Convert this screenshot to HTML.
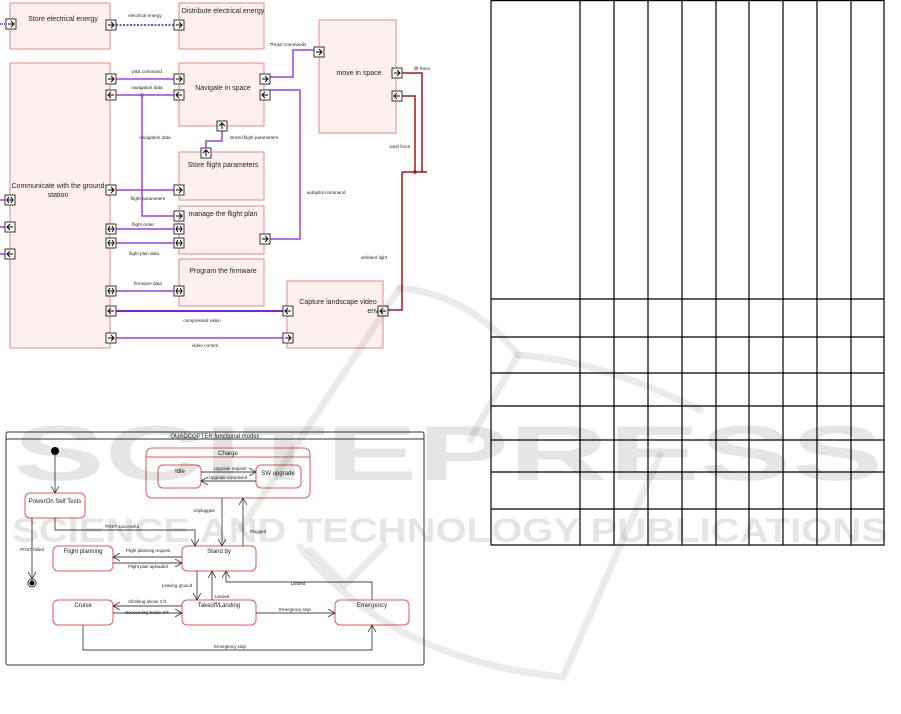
<!DOCTYPE html>
<html><head><meta charset="utf-8"><style>
html,body{margin:0;padding:0;background:#fff;}
svg{display:block;font-family:"Liberation Sans",sans-serif;}
</style></head><body>
<svg width="901" height="714" viewBox="0 0 901 714" xmlns="http://www.w3.org/2000/svg" font-family="Liberation Sans, sans-serif">
<defs>
<marker id="oa" markerWidth="8" markerHeight="8" refX="7" refY="4" orient="auto" markerUnits="userSpaceOnUse"><path d="M0,0 L7,4 L0,8" fill="none" stroke="#333" stroke-width="0.8"/></marker>
<g id="pr"><rect x="-5" y="-5" width="10" height="10" fill="#fff" stroke="#333" stroke-width="1"/><path d="M-3,0 H3 M0,-3 L3,0 L0,3" fill="none" stroke="#000" stroke-width="1"/></g>
<g id="pl"><rect x="-5" y="-5" width="10" height="10" fill="#fff" stroke="#333" stroke-width="1"/><path d="M-3,0 H3 M0,-3 L-3,0 L0,3" fill="none" stroke="#000" stroke-width="1"/></g>
<g id="pu"><rect x="-5" y="-5" width="10" height="10" fill="#fff" stroke="#333" stroke-width="1"/><path d="M0,-3 V3 M-3,0 L0,-3 L3,0" fill="none" stroke="#000" stroke-width="1"/></g>
<g id="pb"><rect x="-5" y="-5" width="10" height="10" fill="#fff" stroke="#333" stroke-width="1"/><path d="M-3,0 H3 M-1,-3 L-3,0 L-1,3 M1,-3 L3,0 L1,3" fill="none" stroke="#000" stroke-width="1"/></g>
</defs>

<!-- TOP DIAGRAM -->
<g fill="#fff0f0" stroke="#e08888" stroke-width="1">
<rect x="10" y="3" width="100" height="46"/>
<rect x="179" y="3" width="85" height="46"/>
<rect x="319" y="20" width="77" height="113"/>
<rect x="10" y="63" width="100" height="285"/>
<rect x="179" y="63" width="85" height="63"/>
<rect x="179" y="152" width="85" height="48"/>
<rect x="179" y="206" width="85" height="48"/>
<rect x="179" y="259" width="85" height="47"/>
<rect x="287" y="281" width="96" height="67"/>
</g>
<g fill="none" stroke-width="1.5">
<path d="M116,25 H174" stroke="#2222dd" stroke-dasharray="2,1.5"/>
<path d="M0,24 H5" stroke="#2222dd" stroke-dasharray="1,1"/>
<g stroke="#9b40f0">
<path d="M116,79 H174"/>
<path d="M116,95 H174"/>
<path d="M142,95 V216 H174"/>
<path d="M270,77 H293 V50 H314"/>
<path d="M270,90 H300 V239 H270"/>
<path d="M206,148 V141 H222 V131"/>
<path d="M116,190 H174"/>
<path d="M116,229 H174"/>
<path d="M116,243 H174"/>
<path d="M116,291 H174"/>
<path d="M116,311 H283" stroke="#7a22e0" stroke-width="2"/>
<path d="M116,338 H283"/>
<path d="M0,200 H5 M0,227 H5 M0,254 H5"/>
</g>
<g stroke="#a01818">
<path d="M402,73 H422 V172"/>
<path d="M402,96 H415 V172"/>
<path d="M402,172 H427"/>
<path d="M402,172 V310 H388"/>
</g>
</g>
<circle cx="142" cy="95" r="1.8" fill="#9b40f0"/>
<circle cx="415" cy="172" r="1.8" fill="#a01818"/>
<use href="#pr" x="11" y="24"/>
<use href="#pr" x="111" y="25"/>
<use href="#pr" x="179" y="25"/>
<use href="#pr" x="319" y="52"/>
<use href="#pr" x="397" y="73"/>
<use href="#pl" x="397" y="96"/>
<use href="#pr" x="111" y="79"/>
<use href="#pl" x="111" y="95"/>
<use href="#pr" x="179" y="79"/>
<use href="#pl" x="179" y="95"/>
<use href="#pr" x="265" y="79"/>
<use href="#pl" x="265" y="95"/>
<use href="#pu" x="222" y="126"/>
<use href="#pu" x="206" y="153"/>
<use href="#pr" x="111" y="190"/>
<use href="#pr" x="179" y="190"/>
<use href="#pr" x="179" y="216"/>
<use href="#pb" x="111" y="229"/>
<use href="#pb" x="179" y="229"/>
<use href="#pb" x="111" y="243"/>
<use href="#pb" x="179" y="243"/>
<use href="#pr" x="265" y="239"/>
<use href="#pb" x="111" y="291"/>
<use href="#pb" x="179" y="291"/>
<use href="#pl" x="111" y="311"/>
<use href="#pl" x="288" y="311"/>
<use href="#pl" x="383" y="311"/>
<use href="#pr" x="111" y="338"/>
<use href="#pr" x="288" y="338"/>
<use href="#pb" x="10" y="200"/>
<use href="#pl" x="10" y="227"/>
<use href="#pl" x="10" y="254"/>

<g font-size="7" fill="#222" text-anchor="middle">
<text x="63" y="21">Store electrical energy</text>
<text x="223" y="13">Distribute electrical energy</text>
<text x="359" y="75">move in space</text>
<text x="223" y="90">Navigate in space</text>
<text x="223" y="167">Store flight parameters</text>
<text x="223" y="216">manage the flight plan</text>
<text x="223" y="273">Program the firmware</text>
<text x="58" y="188">Communicate with the ground</text>
<text x="58" y="197">station</text>
<text x="338" y="304">Capture landscape video</text>
<text x="373" y="313">env</text>
</g>
<g font-size="4.6" fill="#222" text-anchor="middle">
<text x="145" y="17">electrical energy</text>
<text x="147" y="73">pilot command</text>
<text x="147" y="89">navigation data</text>
<text x="155" y="139">navigation data</text>
<text x="254" y="139">stored flight parameters</text>
<text x="288" y="46">Thrust commands</text>
<text x="422" y="70">lift force</text>
<text x="400" y="148">wind force</text>
<text x="326" y="194">autopilot command</text>
<text x="374" y="259">ambiant light</text>
<text x="148" y="200">flight parameters</text>
<text x="143" y="226">flight order</text>
<text x="144" y="255">flight plan data</text>
<text x="148" y="285">firmware data</text>
<text x="202" y="322">compressed video</text>
<text x="205" y="347">video control</text>
</g>

<!-- STATE DIAGRAM -->
<rect x="6" y="432" width="418" height="233" rx="2" fill="#fff" stroke="#333" stroke-width="1"/>
<path d="M6,439 H424" stroke="#333" stroke-width="1"/>
<text x="215" y="438" font-size="6" text-anchor="middle" fill="#222">QUADCOPTER functional modes</text>
<g fill="#fff" stroke="#e05a5a" stroke-width="1">
<rect x="146" y="448" width="164" height="50" rx="6"/>
<rect x="158" y="465" width="43" height="23" rx="5"/>
<rect x="256" y="465" width="45" height="23" rx="5"/>
<rect x="25" y="493" width="60" height="25" rx="5"/>
<rect x="53" y="546" width="60" height="25" rx="5"/>
<rect x="182" y="546" width="74" height="25" rx="5"/>
<rect x="53" y="600" width="60" height="25" rx="5"/>
<rect x="182" y="600" width="74" height="25" rx="5"/>
<rect x="335" y="600" width="74" height="25" rx="5"/>
</g>
<path d="M146,457 H310" stroke="#e05a5a" stroke-width="1"/>
<circle cx="55" cy="451" r="4" fill="#000"/>
<circle cx="32" cy="583" r="4" fill="#fff" stroke="#333"/>
<circle cx="32" cy="583" r="2.5" fill="#000"/>
<g fill="none" stroke="#444" stroke-width="0.9" marker-end="url(#oa)">
<path d="M55,455 V493"/>
<path d="M32,518 V579"/>
<path d="M55,518 V530 H195 V546"/>
<path d="M201,472 H256"/>
<path d="M256,481 H201"/>
<path d="M222,498 V546"/>
<path d="M243,546 V498"/>
<path d="M182,557 H113"/>
<path d="M113,563 H182"/>
<path d="M197,571 V600"/>
<path d="M212,600 V571"/>
<path d="M372,600 V582 H226 V571"/>
<path d="M182,606 H113"/>
<path d="M113,613 H182"/>
<path d="M256,613 H335"/>
<path d="M83,625 V650 H372 V625"/>
</g>
<g font-size="6" fill="#222" text-anchor="middle">
<text x="228" y="455">Charge</text>
<text x="180" y="473">Idle</text>
<text x="278" y="475">SW upgrade</text>
<text x="55" y="503">PowerOn Self Tests</text>
<text x="83" y="553">Flight planning</text>
<text x="219" y="553">Stand by</text>
<text x="83" y="607">Cruise</text>
<text x="219" y="607">Takeoff/Landing</text>
<text x="372" y="607">Emergency</text>
</g>
<g font-size="4.4" fill="#222" text-anchor="middle">
<text x="230" y="470">Upgrade request</text>
<text x="228" y="479">Upgrade completed</text>
<text x="32" y="551">POST failed</text>
<text x="122" y="528">POST successful</text>
<text x="204" y="512">Unplugged</text>
<text x="258" y="533">Plugged</text>
<text x="148" y="552">Flight planning request</text>
<text x="148" y="568">Flight plan uploaded</text>
<text x="177" y="587">Leaving ground</text>
<text x="222" y="598">Landed</text>
<text x="298" y="585">Landed</text>
<text x="147" y="603">Climbing above 3 ft</text>
<text x="147" y="614">Descending below 3 ft</text>
<text x="295" y="611">Emergency stop</text>
<text x="230" y="648">Emergency stop</text>
</g>

<!-- TABLE -->
<g stroke="#000" stroke-width="1.2" fill="none">
<rect x="491" y="0.6" width="393" height="544.4"/>
<path d="M580,0 V545 M614,0 V545 M648,0 V545 M682,0 V545 M716,0 V545 M749,0 V545 M783,0 V545 M817,0 V545 M851,0 V545"/>
<path d="M491,299 H884 M491,337 H884 M491,373 H884 M491,406 H884 M491,440 H884 M491,472 H884 M491,509 H884"/>
</g>

<!-- WATERMARK -->
<g fill="#000" fill-opacity="0.1" font-weight="bold" font-family="Liberation Sans, sans-serif">
<text x="13" y="480" font-size="78" textLength="870" lengthAdjust="spacingAndGlyphs" style="font-family:'Liberation Sans',sans-serif">SCITEPRESS</text>
<text x="12" y="542" font-size="34" textLength="876" lengthAdjust="spacingAndGlyphs" style="font-family:'Liberation Sans',sans-serif">SCIENCE AND TECHNOLOGY PUBLICATIONS</text>
</g>
<g fill="none" stroke="#000" stroke-opacity="0.08" stroke-width="7" stroke-linecap="round">
<path d="M400,288 L240,530"/>
<path d="M400,288 Q470,295 518,355 Q600,360 700,410"/>
<path d="M518,355 L470,440"/>
<path d="M300,547 Q390,660 563,677 L660,455"/>
<path d="M310,550 L345,585 L385,545"/>
</g>
</svg>
</body></html>
